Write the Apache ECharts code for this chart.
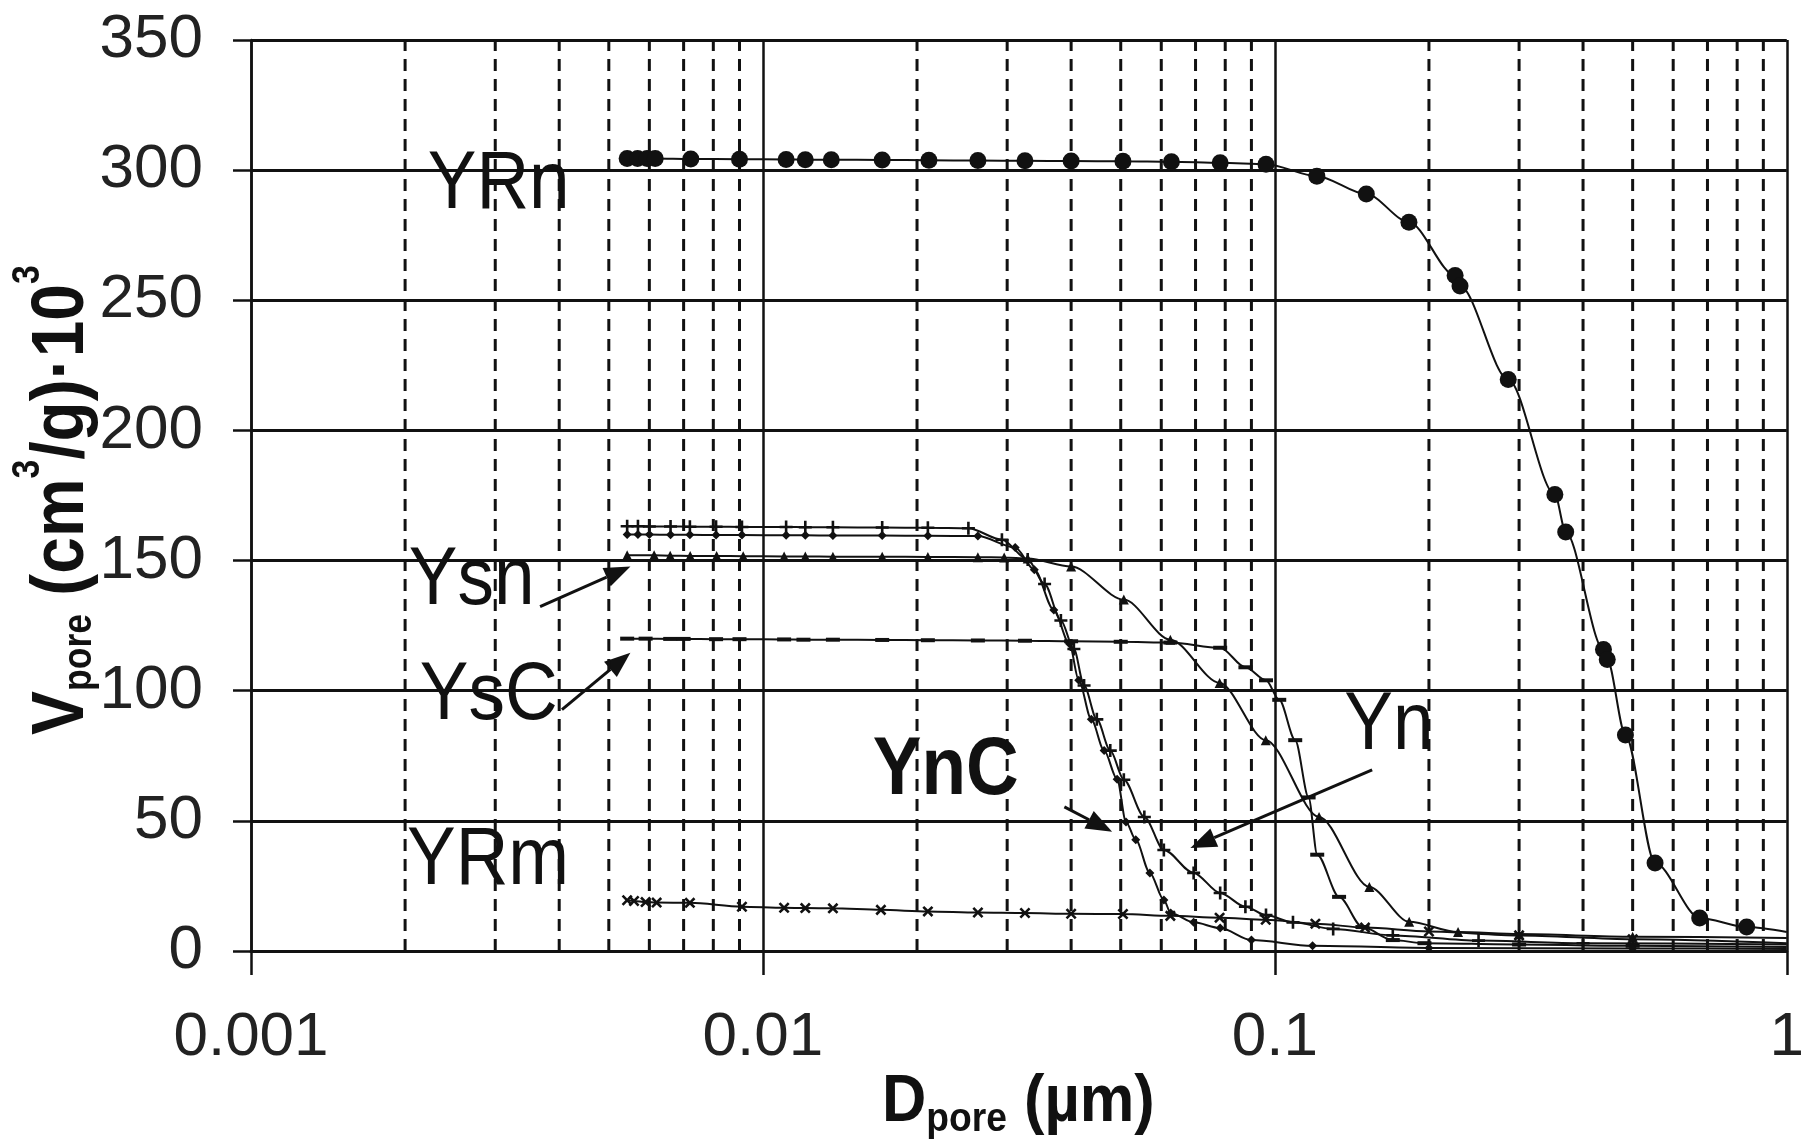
<!DOCTYPE html>
<html>
<head>
<meta charset="utf-8">
<script src="https://cdn.jsdelivr.net/npm/echarts@6/dist/echarts.min.js"></script>
<style>
  html, body { margin: 0; padding: 0; background: #fff; }
  #chart { width: 1807px; height: 1148px; }
</style>
</head>
<body>
<div id="chart"></div>
<script>
// Cumulative pore volume vs. pore diameter (mercury porosimetry)
const xTickLabels = ['0.001', '0.01', '0.1', '1'];

const YRn_D = [0.00543,0.00569,0.00594,0.00616,0.00723,0.0090,0.0111,0.0121,0.0136,0.0171,0.0211,0.0263,0.0325,0.0400,0.0505,0.0628,0.0782,0.0961,0.1208,0.1509,0.1828,0.2250,0.2300,0.2857,0.3524,0.3700,0.4385,0.4460,0.4840,0.5530,0.6760,0.8350,1.0];
const YRn_V = [304.5,304.5,304.5,304.5,304.3,304.2,304.1,304.0,304.0,303.9,303.8,303.7,303.6,303.5,303.4,303.2,302.8,302.3,297.7,290.8,280.0,259.5,255.5,219.6,175.4,161.0,115.8,112.0,83.0,33.8,12.7,9.2,7.3];

const Ysn_D = [0.00543,0.00613,0.00659,0.00721,0.00812,0.00915,0.0110,0.0121,0.0137,0.0171,0.0210,0.0263,0.0296,0.0329,0.0400,0.0507,0.0625,0.0780,0.0960,0.1220,0.1530,0.1830,0.2280,0.3000,0.5000,1.0];
const Ysn_V = [152.0,152.0,151.9,151.8,151.8,151.7,151.6,151.6,151.5,151.5,151.4,151.3,151.2,150.8,147.7,135.0,119.6,103.0,81.0,51.5,24.6,11.2,7.3,6.5,5.5,5.0];

const YsC_D = [0.00543,0.00590,0.00659,0.00700,0.00810,0.00900,0.0110,0.0120,0.0137,0.0171,0.0210,0.0263,0.0325,0.0400,0.0500,0.0625,0.0782,0.0876,0.0961,0.1020,0.1096,0.1164,0.1210,0.1335,0.1483,0.1700,0.1960,0.3000,0.5000,1.0];
const YsC_V = [120.0,120.0,119.9,119.9,119.8,119.8,119.7,119.6,119.6,119.5,119.4,119.3,119.2,119.0,118.8,118.5,116.5,109.0,104.0,96.5,81.0,59.0,37.0,20.8,9.2,4.2,3.0,2.5,2.0,1.5];

const Yn_D = [0.00543,0.00570,0.00600,0.00660,0.00720,0.00810,0.00910,0.0111,0.0121,0.0137,0.0171,0.0210,0.0252,0.0293,0.0329,0.0355,0.0382,0.0405,0.0424,0.0449,0.0477,0.0507,0.0556,0.0607,0.0694,0.0782,0.0876,0.0961,0.1085,0.1300,0.1700,0.2500,0.4000,1.0];
const Yn_V = [163.2,163.2,163.1,163.1,163.0,163.0,162.9,162.9,162.8,162.8,162.7,162.6,162.4,158.0,150.4,141.0,127.0,116.0,102.0,89.0,77.0,65.8,51.5,38.8,30.0,22.3,17.0,13.8,11.0,8.5,6.0,4.0,3.0,2.5];

const YnC_D = [0.00543,0.00570,0.00600,0.00660,0.00720,0.00810,0.00910,0.0111,0.0121,0.0137,0.0171,0.0210,0.0263,0.0311,0.0339,0.0370,0.0397,0.0414,0.0438,0.0464,0.0492,0.0512,0.0535,0.0570,0.0607,0.0626,0.0694,0.0782,0.0900,0.1185,0.2000,0.5000,1.0];
const YnC_V = [160.0,160.0,160.0,159.9,159.9,159.8,159.8,159.7,159.7,159.6,159.6,159.5,159.4,155.0,146.5,131.0,118.0,104.0,89.0,77.0,66.0,49.6,42.7,30.0,19.6,14.6,11.0,8.8,4.2,2.0,1.2,1.0,0.8];

const YRm_D = [0.00543,0.00560,0.00590,0.00620,0.00720,0.00910,0.0110,0.0121,0.0137,0.0170,0.0210,0.0263,0.0325,0.0400,0.0505,0.0625,0.0780,0.0960,0.1200,0.1500,0.2000,0.3000,0.5000,1.0];
const YRm_V = [19.5,19.2,18.8,18.6,18.5,17.0,16.6,16.5,16.4,15.8,15.2,14.8,14.6,14.3,14.2,13.5,12.8,12.0,10.5,9.0,7.5,6.0,4.5,3.0];

// sample labels and arrows, anchored in data space [D, V]
const labels = [
  { text: 'YRn', at: [0.002214, 284.2], bold: false },
  { text: 'Ysn', at: [0.002034, 132.3], bold: false },
  { text: 'YsC', at: [0.002137, 88.1],  bold: false },
  { text: 'YRm', at: [0.002017, 24.6],  bold: false },
  { text: 'YnC', at: [0.01639, 59.2],   bold: true },
  { text: 'Yn',  at: [0.1367, 76.5],    bold: false }
];
const arrows = [
  { from: [0.00367, 132.3], to: [0.00551, 147.7] },
  { from: [0.00405, 92.7],  to: [0.00551, 114.6] },
  { from: [0.0388, 55.4],   to: [0.0481, 45.8] },
  { from: [0.1549, 69.6],   to: [0.0684, 39.6] }
];

// minor (2..9) decade lines of the log grid
const minorLines = [];
[0.001, 0.01, 0.1].forEach(function (d) {
  for (let k = 2; k <= 9; k++) minorLines.push(+(d * k).toPrecision(3));
});
const Y_MIN = 0, Y_MAX = 350;

const INK = '#111';
const FONT = '"Liberation Sans", Arial, sans-serif';
const PLUS = 'path://M4,0H6V4H10V6H6V10H4V6H0V4H4Z';

function pairs(xs, ys) { return xs.map(function (x, i) { return [x, ys[i]]; }); }
function sym(shape) {
  return function (value) { return value[0] >= 1 ? 'none' : shape; };
}
function curve(name, xs, ys, shape, size, rotate) {
  return {
    name: name, type: 'line', data: pairs(xs, ys),
    smooth: 0.3, smoothMonotone: 'x', z: 3,
    symbol: sym(shape), symbolSize: size, symbolRotate: rotate || 0, showAllSymbol: true,
    lineStyle: { color: INK, width: 2 },
    itemStyle: { color: INK, borderColor: INK, borderWidth: 0 },
    emphasis: { disabled: true }, silent: true
  };
}

const chart = echarts.init(document.getElementById('chart'), null, { renderer: 'canvas' });

chart.setOption({
  animation: false,
  backgroundColor: '#fff',
  grid: { left: 251, right: 9, top: 40, bottom: 197, containLabel: false },
  xAxis: {
    type: 'log', logBase: 10, min: 0.001, max: 1,
    axisLine: { show: true, onZero: false, lineStyle: { color: INK, width: 3 } },
    axisTick: { show: true, length: 24, lineStyle: { color: INK, width: 2.5 } },
    axisLabel: {
      fontSize: 62, fontFamily: FONT, color: '#222', margin: 56, lineHeight: 62,
      formatter: function (v) { return xTickLabels[Math.round(Math.log10(v)) + 3]; }
    },
    splitLine: { show: true, lineStyle: { color: INK, width: 2.5 } },
    minorTick: { show: false }, minorSplitLine: { show: false }
  },
  yAxis: {
    type: 'value', min: Y_MIN, max: Y_MAX, interval: 50,
    axisLine: { show: true, onZero: false, lineStyle: { color: INK, width: 2.5 } },
    axisTick: { show: true, length: 18, lineStyle: { color: INK, width: 2.5 } },
    axisLabel: { fontSize: 62, fontFamily: FONT, color: '#222', margin: 48 },
    splitLine: { show: true, lineStyle: { color: INK, width: 3 } }
  },
  series: [
    {
      name: 'minor grid', type: 'custom', z: 1, silent: true,
      data: minorLines.map(function (d) { return [d]; }),
      encode: { x: 0 },
      renderItem: function (params, api) {
        const d = api.value(0);
        const a = api.coord([d, Y_MIN]), b = api.coord([d, Y_MAX]);
        return {
          type: 'line',
          shape: { x1: a[0], y1: a[1], x2: b[0], y2: b[1] },
          style: { stroke: INK, lineWidth: 3, lineDash: [12, 8], fill: null }
        };
      }
    },
    curve('YRn', YRn_D, YRn_V, 'circle', 17),
    curve('Ysn', Ysn_D, Ysn_V, 'triangle', 10),
    curve('YsC', YsC_D, YsC_V, 'rect', [14, 4]),
    curve('Yn',  Yn_D,  Yn_V,  PLUS, 13),
    curve('YnC', YnC_D, YnC_V, 'diamond', 9),
    curve('YRm', YRm_D, YRm_V, PLUS, 13, 45)
  ]
});

// ---------- annotations and axis titles ----------
const mctx = document.createElement('canvas').getContext('2d');
function textWidth(font, s) { mctx.font = font; return mctx.measureText(s).width; }
function fontOf(size, bold) { return (bold ? 'bold ' : '') + size + 'px ' + FONT; }
function px(p) { return chart.convertToPixel({ xAxisIndex: 0, yAxisIndex: 0 }, p); }

function textEl(x, y, text, size, bold) {
  return {
    type: 'text', x: x, y: y,
    style: {
      text: text, font: fontOf(size, bold), fill: INK,
      textAlign: 'left', textVerticalAlign: 'middle', align: 'left', verticalAlign: 'middle'
    }
  };
}
// a run of text pieces sharing one baseline (y = 0); dy shifts sub/superscripts
function run(pieces) {
  let x = 0;
  return pieces.map(function (p) {
    const el = textEl(x, (p.dy || 0) - 0.31 * p.size, p.t, p.size, p.bold);
    x += textWidth(fontOf(p.size, p.bold), p.t);
    return el;
  });
}

const g = [];
labels.forEach(function (l) {
  const p = px(l.at);
  g.push({
    type: 'group', x: p[0], y: p[1], scaleX: 0.89,
    children: run([{ t: l.text, size: 82, bold: l.bold }])
  });
});
arrows.forEach(function (a) {
  const s = px(a.from), e = px(a.to);
  const ang = Math.atan2(e[1] - s[1], e[0] - s[0]);
  const L = 26, W = 10;
  const bx = e[0] - L * Math.cos(ang), by = e[1] - L * Math.sin(ang);
  g.push({ type: 'line', shape: { x1: s[0], y1: s[1], x2: bx, y2: by }, style: { stroke: INK, lineWidth: 3 } });
  g.push({
    type: 'polygon',
    shape: { points: [[e[0], e[1]], [bx + W * Math.sin(ang), by - W * Math.cos(ang)], [bx - W * Math.sin(ang), by + W * Math.cos(ang)]] },
    style: { fill: INK }
  });
});

// x-axis title: D_pore (µm)
g.push({
  type: 'group', x: 882, y: 1123, scaleX: 0.93,
  children: run([
    { t: 'D', size: 66, bold: true },
    { t: 'pore', size: 40, bold: true, dy: 9 },
    { t: ' (µm)', size: 66, bold: true }
  ])
});
// y-axis title: V_pore (cm³/g)·10³, reading upwards
g.push({
  type: 'group', x: 86, y: 735, rotation: Math.PI / 2, scaleX: 0.89,
  children: run([
    { t: 'V', size: 74, bold: true },
    { t: 'pore', size: 40, bold: true, dy: 6 },
    { t: ' (cm', size: 74, bold: true },
    { t: '3', size: 38, bold: true, dy: -46 },
    { t: '/g)·10', size: 74, bold: true },
    { t: '3', size: 38, bold: true, dy: -46 }
  ])
});

chart.setOption({ graphic: { elements: g } });
</script>
</body>
</html>
